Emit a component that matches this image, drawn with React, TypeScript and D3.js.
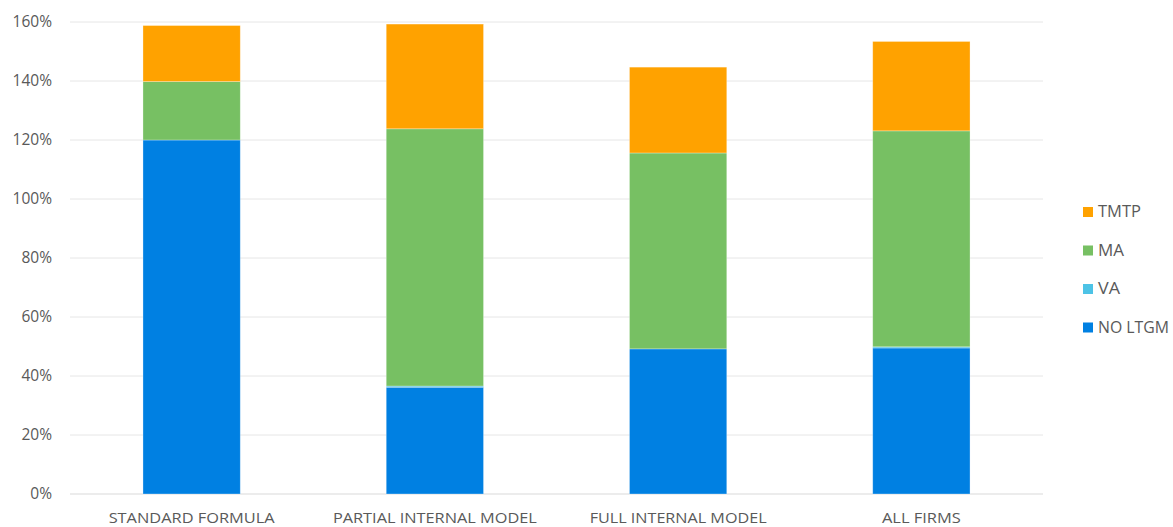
import React from "react";
import * as d3 from "d3";

const categories = ["STANDARD FORMULA", "PARTIAL INTERNAL MODEL", "FULL INTERNAL MODEL", "ALL FIRMS"];
const noLtgm = [120, 36.2, 49.2, 49.5];
const va = [0, 0.4, 0, 0.4];
const ma = [19.8, 87.2, 66.4, 73.2];
const tmtp = [19, 35.5, 29.1, 30.3];
const seriesNames = ["NO LTGM", "VA", "MA", "TMTP"];
const seriesColors = ["#0080E2", "#4DC3E6", "#77C063", "#FFA200"];
const yTicks = [0, 20, 40, 60, 80, 100, 120, 140, 160];
const categoryLabelWidths = [166, 204, 177, 79];
const legendLabelWidths: Record<string, number> = { TMTP: 43, MA: 26, VA: 22, "NO LTGM": 71 };

const W = 1173;
const H = 527;
const FONT = "'Open Sans', 'Noto Sans', sans-serif";

export default function App() {
  const x = d3.scaleBand<string>().domain(categories).range([70, 1043]).paddingInner(0.6).paddingOuter(0.3);
  const y = d3.scaleLinear().domain([0, 160]).range([494, 22]);
  const rows = categories.map((c, i) => ({ cat: c, "NO LTGM": noLtgm[i], VA: va[i], MA: ma[i], TMTP: tmtp[i] }));
  const stacked = d3.stack<any>().keys(seriesNames)(rows);
  const legendOrder = ["TMTP", "MA", "VA", "NO LTGM"];

  return (
    <svg width={W} height={H} style={{ position: "absolute", left: 0, top: 0, background: "#fff" }}>
      {yTicks.map((t) => (
        <g key={t}>
          <line x1={70} x2={1043} y1={y(t)} y2={y(t)} stroke={t === 0 ? "#D9D9D9" : "#E6E6E6"} strokeWidth={1} />
          <text x={52} y={y(t)} dy="0.35em" textAnchor="end" fontFamily={FONT} fontSize={15.5} fill="#595959">
            {t + "%"}
          </text>
        </g>
      ))}
      {stacked.map((s, si) => (
        <g key={s.key} fill={seriesColors[si]}>
          {s.map((d, i) => {
            const h = y(d[0]) - y(d[1]);
            if (h <= 0) return null;
            return (
              <rect key={i} x={x(categories[i])!} width={x.bandwidth()} y={y(d[1])} height={h}
                stroke="#ffffff" strokeOpacity={0.4} strokeWidth={0.75} />
            );
          })}
        </g>
      ))}
      {categories.map((c, i) => (
        <text key={c} x={x(c)! + x.bandwidth() / 2} y={518} dy="0.35em" textAnchor="middle"
          fontFamily={FONT} fontSize={15} fill="#595959"
          textLength={categoryLabelWidths[i]} lengthAdjust="spacingAndGlyphs">
          {c}
        </text>
      ))}
      {legendOrder.map((name, i) => {
        const idx = seriesNames.indexOf(name);
        const ly = 212 + i * 38.5;
        return (
          <g key={name}>
            <rect x={1083} y={ly - 5} width={10} height={10} fill={seriesColors[idx]} />
            <text x={1098} y={ly} dy="0.35em" fontFamily={FONT} fontSize={15.5} fill="#595959"
              textLength={legendLabelWidths[name]} lengthAdjust="spacingAndGlyphs">{name}</text>
          </g>
        );
      })}
    </svg>
  );
}
